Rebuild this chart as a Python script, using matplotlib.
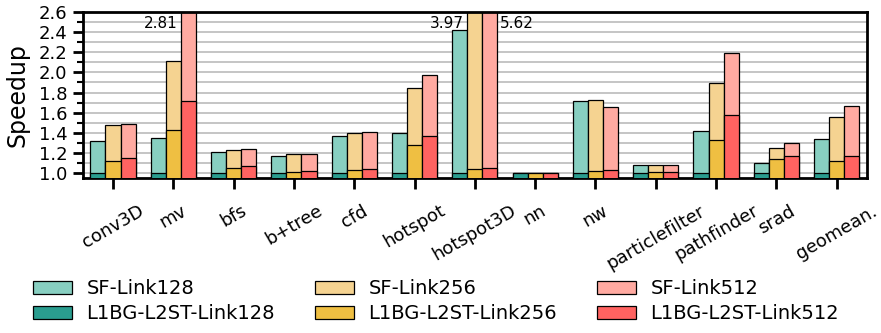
import matplotlib.pyplot as plt
import numpy as np

benchmarks = ['conv3D', 'mv', 'bfs', 'b+tree', 'cfd', 'hotspot', 'hotspot3D', 'nn',
              'nw', 'particlefilter', 'pathfinder', 'srad', 'geomean.']

sf_128 = [1.315, 1.352, 1.205, 1.172, 1.372, 1.398, 2.42, 1.0, 1.72, 1.08, 1.418, 1.096, 1.339]
sf_256 = [1.478, 2.112, 1.229, 1.189, 1.398, 1.843, 3.97, 1.0, 1.727, 1.08, 1.896, 1.249, 1.558]
sf_512 = [1.488, 2.81, 1.239, 1.189, 1.404, 1.972, 5.62, 1.0, 1.657, 1.08, 2.188, 1.302, 1.67]

l1bg_128 = [1.0, 1.0, 1.0, 1.0, 1.0, 1.0, 1.0, 1.005, 1.0, 1.0, 1.0, 1.0, 1.0]
l1bg_256 = [1.122, 1.428, 1.05, 1.016, 1.033, 1.282, 1.04, 1.005, 1.023, 1.01, 1.329, 1.136, 1.116]
l1bg_512 = [1.149, 1.713, 1.07, 1.02, 1.043, 1.365, 1.05, 1.005, 1.033, 1.013, 1.58, 1.166, 1.166]

links = ['Link128', 'Link256', 'Link512']
sf_colors = ['#88cfc1', '#f5d391', '#ffaaa1']
l1bg_colors = ['#2a9d8f', '#efbf42', '#ff6361']

ymin, ymax = 0.95, 2.6

fig = plt.figure(figsize=(8.81, 3.33), dpi=100)
ax = fig.add_axes([0.094, 0.465, 0.890, 0.499])

x = np.arange(len(benchmarks))
w = 0.25
sf_all = [sf_128, sf_256, sf_512]
l1_all = [l1bg_128, l1bg_256, l1bg_512]

sf_handles = []
l1_handles = []
for i in range(3):
    pos = x + (i - 1) * w
    b1 = ax.bar(pos, sf_all[i], w, color=sf_colors[i], edgecolor='black',
                linewidth=0.9, zorder=2, label='SF-' + links[i])
    b2 = ax.bar(pos, l1_all[i], w, color=l1bg_colors[i], edgecolor='black',
                linewidth=0.9, zorder=3, label='L1BG-L2ST-' + links[i])
    sf_handles.append(b1)
    l1_handles.append(b2)

# values that go off the top of the axis
for i in range(3):
    for j, v in enumerate(sf_all[i]):
        if v > ymax:
            pos = x[j] + (i - 1) * w
            if i == 2 and j == 6:
                ax.annotate(f'{v:.2f}', (pos + w / 2, ymax), xytext=(1.5, -3),
                            textcoords='offset points', ha='left', va='top', fontsize=11)
            else:
                ax.annotate(f'{v:.2f}', (pos - w / 2, ymax), xytext=(-2.5, -3),
                            textcoords='offset points', ha='right', va='top', fontsize=11)

ax.set_xlim(-0.5, len(benchmarks) - 0.5)
ax.set_ylim(ymin, ymax)
ax.set_yticks(np.arange(1.0, 2.61, 0.2))
ax.set_yticks(np.arange(1.1, 2.6, 0.2), minor=True)
ax.yaxis.grid(True, which='both', color='#b5b5b5', linewidth=1.1, zorder=0)
ax.set_axisbelow(True)

ax.set_xticks(x)
ax.set_xticklabels(benchmarks, rotation=30, ha='center', fontsize=13)
ax.tick_params(axis='x', length=8, width=2, pad=9)
ax.tick_params(axis='y', which='major', length=7, width=2, labelsize=13, pad=4)
ax.tick_params(axis='y', which='minor', length=4, width=1.5)
ax.set_ylabel('Speedup', fontsize=17, labelpad=7)

for s in ax.spines.values():
    s.set_linewidth(2)

handles = [sf_handles[0], l1_handles[0], sf_handles[1], l1_handles[1], sf_handles[2], l1_handles[2]]
labels = [h.get_label() for h in handles]
fig.legend(handles, labels, ncol=3, loc='center', bbox_to_anchor=(0.495, 0.095),
           frameon=False, fontsize=14, handlelength=2.0, handletextpad=0.75,
           columnspacing=2.05, labelspacing=0.3)

fig.savefig('out.png', dpi=100)
